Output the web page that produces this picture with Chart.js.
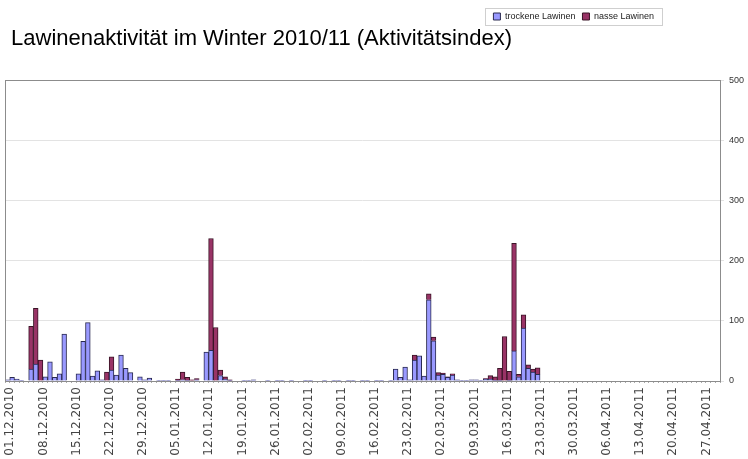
<!DOCTYPE html>
<html lang="de">
<head>
  <meta charset="UTF-8">
  <title>Lawinenaktivität im Winter 2010/11</title>
  <script src="https://cdn.jsdelivr.net/npm/chart.js"></script>
  <style>
    html, body { margin: 0; padding: 0; background: #fff; }
    #wrap { width: 748px; height: 459px; }
  </style>
</head>
<body>
  <div id="wrap"><canvas id="chart" width="748" height="459"></canvas></div>
  <script>
    // weekly labels shown on the x axis
    const tickLabels = ['01.12.2010', '08.12.2010', '15.12.2010', '22.12.2010', '29.12.2010',
      '05.01.2011', '12.01.2011', '19.01.2011', '26.01.2011', '02.02.2011', '09.02.2011',
      '16.02.2011', '23.02.2011', '02.03.2011', '09.03.2011', '16.03.2011', '23.03.2011',
      '30.03.2011', '06.04.2011', '13.04.2011', '20.04.2011', '27.04.2011'];

    // one category per day, 01.12.2010 - 30.04.2011
    const days = [];
    const d = new Date(2010, 11, 1);
    while (d <= new Date(2011, 3, 30)) {
      days.push(String(d.getDate()).padStart(2, '0') + '.' + String(d.getMonth() + 1).padStart(2, '0') + '.' + d.getFullYear());
      d.setDate(d.getDate() + 1);
    }

    const trockene = [
      2, 6, 3, 1, 0, 20, 28, 0, 7, 32,
      6, 12, 78, 0, 0, 12, 66, 97, 8, 17,
      2, 0, 18, 10, 43, 21, 14, 0, 7, 2,
      5, 0, 1, 1, 1, 0, 1, 2, 1, 0,
      2, 0, 48, 51, 0, 9, 3, 1, 0, 0,
      1, 1, 2, 0, 0, 1, 0, 1, 1, 0,
      1, 0, 0, 1, 1, 0, 0, 1, 0, 1,
      1, 0, 1, 1, 0, 1, 1, 0, 1, 1,
      0, 1, 20, 6, 23, 2, 35, 42, 8, 135,
      67, 10, 11, 6, 10, 2, 1, 1, 2, 2,
      1, 3, 3, 1, 1, 0, 1, 50, 7, 88,
      21, 15, 11, 0, 0, 0, 0, 0, 0, 0,
      0, 0, 0, 0, 0, 0, 0, 0, 0, 0,
      0, 0, 0, 0, 0, 0, 0, 0, 0, 0,
      0, 0, 0, 0, 0, 0, 0, 0, 0, 0,
      0
    ];
    const nasse = [
      0, 0, 0, 0, 0, 71, 93, 35, 0, 0,
      0, 0, 0, 0, 0, 0, 0, 0, 0, 0,
      0, 15, 22, 0, 0, 0, 0, 0, 0, 0,
      0, 0, 0, 0, 0, 0, 2, 13, 5, 2,
      2, 0, 0, 186, 89, 9, 4, 1, 0, 0,
      0, 0, 0, 0, 0, 0, 0, 0, 0, 0,
      0, 0, 0, 0, 0, 0, 0, 0, 0, 0,
      0, 0, 0, 0, 0, 0, 0, 0, 0, 0,
      0, 0, 0, 0, 0, 0, 8, 0, 0, 10,
      6, 4, 2, 1, 2, 0, 0, 0, 0, 0,
      0, 1, 6, 6, 20, 74, 15, 179, 4, 22,
      6, 5, 11, 0, 0, 0, 0, 0, 0, 0,
      0, 0, 0, 0, 0, 0, 0, 0, 0, 0,
      0, 0, 0, 0, 0, 0, 0, 0, 0, 0,
      0, 0, 0, 0, 0, 0, 0, 0, 0, 0,
      0
    ];

    // legend is not flush right in the original
    const legendShift = 87;

    const frames = {
      id: 'frames',
      afterLayout(chart) {
        const L = chart.legend;
        L.left -= legendShift;
        L.right -= legendShift;
      },
      afterDraw(chart) {
        const c = chart.ctx;
        const a = chart.chartArea;
        c.save();
        c.strokeStyle = '#8c8c8c';
        c.lineWidth = 1;
        c.strokeRect(Math.round(a.left) + 0.5, Math.round(a.top) + 0.5, Math.round(a.right - a.left), Math.round(a.bottom - a.top));
        const boxes = chart.legend.legendHitBoxes;
        if (boxes && boxes.length) {
          const last = boxes[boxes.length - 1];
          const x0 = boxes[0].left - 8, x1 = last.left + last.width + 8;
          const y0 = boxes[0].top - 4, y1 = boxes[0].top + boxes[0].height + 4;
          c.strokeStyle = '#cfcfcf';
          c.strokeRect(Math.round(x0) + 0.5, Math.round(y0) + 0.5, Math.round(x1 - x0), Math.round(y1 - y0));
        }
        c.restore();
      }
    };

    new Chart(document.getElementById('chart'), {
      type: 'bar',
      data: {
        labels: days,
        datasets: [
          { label: 'trockene Lawinen', data: trockene, backgroundColor: '#9999ff', borderColor: '#2a2a50', borderWidth: 1 },
          { label: 'nasse Lawinen', data: nasse, backgroundColor: '#993366', borderColor: '#3a1426', borderWidth: 1 }
        ]
      },
      plugins: [frames],
      options: {
        responsive: false,
        animation: false,
        datasets: { bar: { categoryPercentage: 1.0, barPercentage: 1.0 } },
        layout: { padding: { left: 5, right: 0, top: 5, bottom: 0 } },
        plugins: {
          legend: {
            position: 'top',
            align: 'end',
            weight: 3000,
            labels: {
              boxWidth: 7, boxHeight: 7, padding: 7,
              color: '#222',
              font: { family: 'Liberation Sans, Arial, sans-serif', size: 9 }
            }
          },
          title: {
            display: true,
            text: ' Lawinenaktivität im Winter 2010/11 (Aktivitätsindex)',
            align: 'start',
            color: '#000',
            font: { family: 'Liberation Sans, Arial, sans-serif', size: 22, weight: 'normal' },
            padding: { top: -5, bottom: 28 }
          },
          tooltip: { enabled: false }
        },
        scales: {
          x: {
            stacked: true,
            border: { display: false },
            grid: { display: true, drawOnChartArea: false, tickLength: 2, color: '#aaa' },
            ticks: {
              autoSkip: false,
              maxRotation: 90,
              minRotation: 90,
              padding: 4,
              labelOffset: 3,
              color: '#444',
              font: { family: 'DejaVu Sans, sans-serif', size: 12 },
              callback: function (v, i) {
                const l = days[i];
                return tickLabels.includes(l) ? l : '';
              }
            },
            afterFit(scale) { scale.height = 78; }
          },
          y: {
            stacked: true,
            position: 'right',
            min: 0,
            max: 500,
            border: { display: false },
            grid: { color: '#e3e3e3', tickLength: 4, drawTicks: true },
            ticks: {
              stepSize: 100,
              padding: 5,
              color: '#333',
              font: { family: 'Liberation Sans, Arial, sans-serif', size: 9 }
            },
            afterFit(scale) { scale.width = 28; }
          }
        }
      }
    });
  </script>
</body>
</html>
